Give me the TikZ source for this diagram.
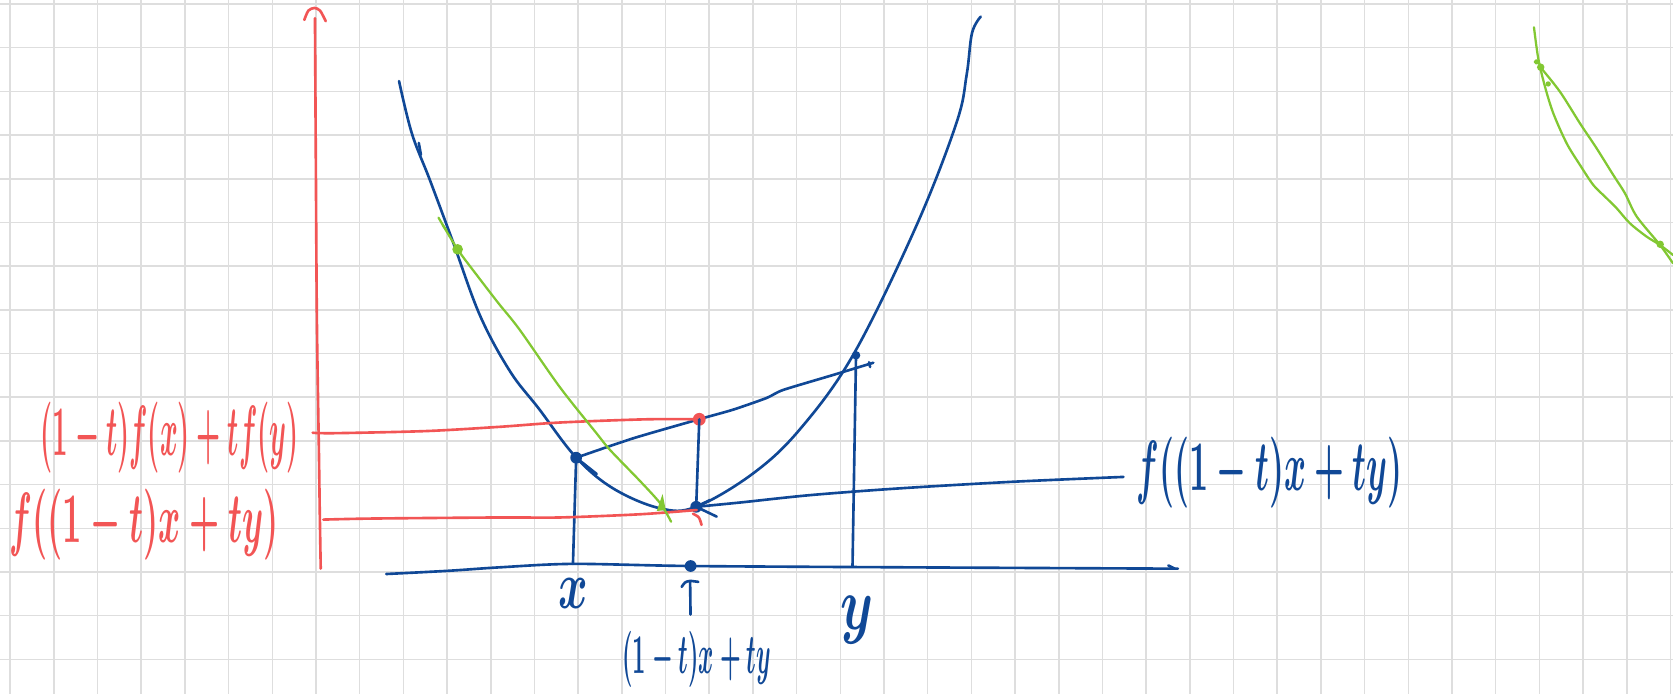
\documentclass[tikz,border=0pt]{standalone}
\usepackage{graphicx}
\definecolor{myblue}{HTML}{104896}
\definecolor{myred}{HTML}{F25555}
\definecolor{mygreen}{HTML}{82C832}
\definecolor{mygrid}{HTML}{DEDEDE}
\tikzset{
  gridline/.style={draw=mygrid, line width=0.4pt},
  bl/.style={draw=myblue, line width=0.7pt, line cap=round, line join=round},
  rd/.style={draw=myred, line width=0.7pt, line cap=round, line join=round},
  gr/.style={draw=mygreen, line width=0.6pt, line cap=round, line join=round},
  bdot/.style={circle, fill=myblue, inner sep=0pt, minimum size=#1},
  rdot/.style={circle, fill=myred, inner sep=0pt, minimum size=#1},
  gdot/.style={circle, fill=mygreen, inner sep=0pt, minimum size=#1},
  lbl/.style={inner sep=0pt, font=\fontsize{10}{12}\selectfont\boldmath}
}
\begin{document}
\begin{tikzpicture}[x=0.1mm, y=-0.1mm]
\useasboundingbox (0,0) rectangle (1568,650);
\fill[white] (0,0) rectangle (1568,650);
% grid
\foreach \k in {0,...,38} \draw[gridline] ({9.5+40.95*\k},0) -- ({9.5+40.95*\k},650);
\foreach \k in {0,...,15} \draw[gridline] (0,{3.75+40.95*\k}) -- (1568,{3.75+40.95*\k});

% red vertical axis
\draw[rd] plot[smooth] coordinates {(295.2,17) (296,150) (297,300) (299,430) (299.7,480) (300.6,533)};
\draw[rd] plot[smooth] coordinates {(285.2,18.7) (289,10) (294.6,7.5) (300,10) (305.3,19.9)};

% blue horizontal axis
\draw[bl] plot[smooth] coordinates {(362,538) (420,535) (469,531.7) (537,528.5) (647,530.5) (843.5,531.7) (1000,532.5) (1104,533)};
\draw[bl] (1095,530) -- (1101,533);

% convex function
\draw[bl] plot[smooth, tension=0.6] coordinates {(374,76) (386,125) (403,169) (425,228) (450,296) (478,348) (505,383) (539.8,428.6) (575,458) (618.6,476.4) (652.5,475) (706,443.6) (750,402) (800,332) (858.5,212.4) (896.3,115.6) (906,70) (911,31) (919.2,15.6)};
\draw[bl] (392.5,134) -- (394.5,145);

% points
\node[bdot=1.1mm] (px) at (540,429) {};
\node[bdot=0.8mm] (py) at (802.3,333) {};
\node[bdot=1.1mm] (pm) at (652.5,475) {};
\node[bdot=1.1mm] (pa) at (647.3,530.5) {};
\coordinate (xa) at (537,528.5);
\coordinate (ya) at (799,531);

% secant
\draw[bl] plot[smooth, tension=0.4] coordinates {(px.center) (593.5,410.8) (655,393) (687,384) (718.5,373) (734,365.5) (781,351.4) (818.5,340)};
\draw[bl] (814.5,339.5) -- (815.5,344);
\draw[bl] (px.center) -- (559.2,444.2);

% vertical drop lines
\draw[bl] (xa) -- (px.center);
\draw[bl] (ya) -- (py.center);

% red horizontal lines
\node[rdot=1.2mm] (pr) at (655.4,393) {};
\draw[rd] plot[smooth] coordinates {(293,405.6) (314,406) (400,404) (469,400) (525,396) (606,393) (pr.center)};
\draw[rd] plot[smooth] coordinates {(303,487) (350,486) (469,485) (525,485) (600,482) (653,478)};
\draw[rd] plot[smooth] coordinates {(649.5,481.5) (655,485) (657.5,492)};

\draw[bl] (pr.center) -- (pm.center);

% green line
\node[gdot=1mm] (pg) at (428.9,233.7) {};
\draw[gr] plot[smooth, tension=0.5] coordinates {(411,204) (pg.center) (447,258) (467,284) (487,309) (524.8,363) (559,406) (572,422) (600,451) (619,472) (629,489)};
\fill[mygreen] (615.5,479) -- (621,463) -- (624,478) -- cycle;
\draw[gr] (415,211) -- (418.5,216);

% label arrow to f((1-t)x+ty)
\node[lbl, text=myblue] (lf) at (1190,443) {\scalebox{0.89}[1.9]{$f((1-t)x+ty)$}};
\coordinate (lfe) at (1053,447);
\draw[bl] plot[smooth, tension=0.5] coordinates {(pm.center) (693.5,471) (760,464) (843.5,457.7) (950,451.5) (lfe)};
\draw[bl] (pm.center) -- (665.5,468.6);
\draw[bl] (pm.center) -- (671.7,484.2);

% labels under axis
\node[lbl, text=myblue] (lx) at (537,556) {\scalebox{1.2}[1.8]{$x$}};
\node[lbl, text=myblue] (ly) at (803,581) {\scalebox{1.4}[2.0]{$y$}};
\node[lbl, text=myblue] (lm) at (653,618) {\scalebox{0.62}[1.5]{$(1-t)x+ty$}};
\draw[bl] (646.8,545) -- (647.2,576);
\draw[bl] plot[smooth] coordinates {(638.9,550.1) (642,546) (646.7,544.5) (654.5,545.4)};

% red labels
\node[lbl, text=myred] (lr1) at (159,410) {\scalebox{0.72}[1.9]{$(1-t)f(x)+tf(y)$}};
\node[lbl, text=myred] (lr2) at (135,492) {\scalebox{0.9}[1.9]{$f((1-t)x+ty)$}};

% right green sketch
\draw[gr] plot[smooth, tension=0.5] coordinates {(1437.7,25.6) (1441.7,54.7) (1448,81.2) (1455.8,106.2) (1468.3,134.3) (1480.8,154.6) (1493.3,173.4) (1504.2,184.3) (1515.2,195.2) (1527.6,209.3) (1543.3,221.8) (1555.8,229.6) (1568,239)};
\draw[gr] plot[smooth, tension=0.5] coordinates {(1443.3,62.5) (1462,85.9) (1480.8,115.6) (1496.4,139) (1512,164) (1523,181.2) (1534,203) (1555.8,229.6) (1568,246.8)};
\node[gdot=0.7mm] (g1) at (1444,63) {};
\node[gdot=0.5mm] (g2) at (1451,78.7) {};
\node[gdot=0.7mm] (g3) at (1556,229) {};
\draw[gr] (1440,58) circle (1.6);
\end{tikzpicture}
\end{document}
